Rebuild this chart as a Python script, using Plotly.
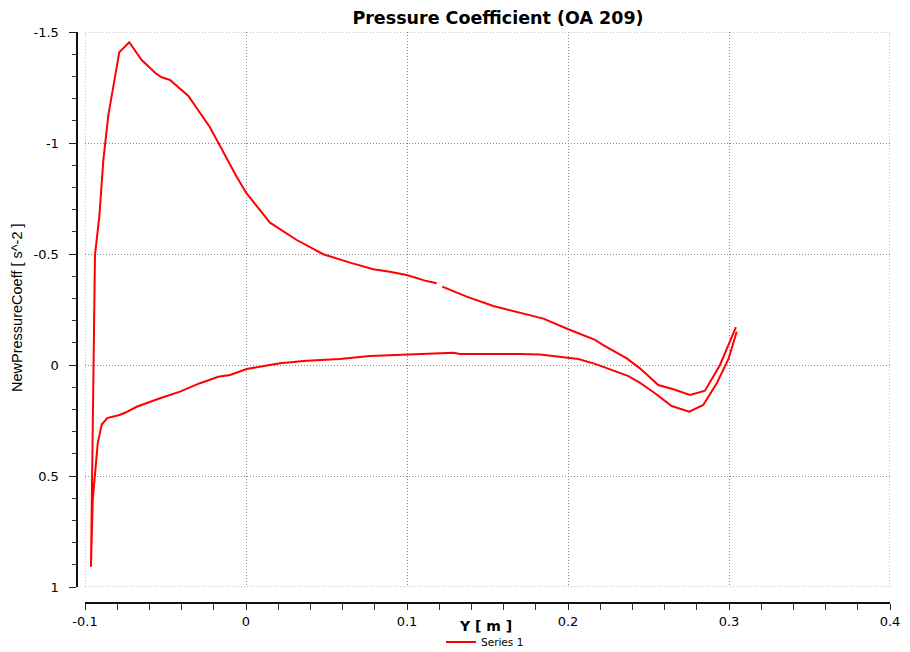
import plotly.graph_objects as go

# ---- data ----
# suction side, from the leading-edge stagnation point to the small gap
upper_le_y = [-0.0963, -0.0938, -0.0911, -0.0886, -0.0855, -0.0787, -0.0725, -0.0648,
              -0.0561, -0.0524, -0.0472, -0.0358, -0.0224, -0.0058, 0.0004, 0.0087,
              0.0149, 0.0315, 0.0480, 0.0646, 0.0791, 0.0894, 0.0998, 0.1112, 0.1184]
upper_le_cp = [0.909, -0.496, -0.668, -0.923, -1.126, -1.409, -1.454, -1.374,
               -1.314, -1.296, -1.284, -1.212, -1.071, -0.848, -0.773, -0.695,
               -0.641, -0.563, -0.499, -0.461, -0.431, -0.420, -0.405, -0.380, -0.368]
# suction side, from the gap to the trailing edge
upper_te_y = [0.1219, 0.1371, 0.1536, 0.1722, 0.1847, 0.2002, 0.2064, 0.2168, 0.2219,
              0.2365, 0.2447, 0.2561, 0.2654, 0.2758, 0.2851, 0.2944, 0.3043]
upper_te_cp = [-0.353, -0.308, -0.266, -0.233, -0.209, -0.161, -0.143, -0.113, -0.090,
               -0.030, 0.015, 0.090, 0.109, 0.135, 0.116, 0.000, -0.171]
# pressure side, from the stagnation point to the trailing edge
lower_y = [-0.0963, -0.0952, -0.0921, -0.0896, -0.0862, -0.0786, -0.0745, -0.0679,
           -0.0625, -0.0534, -0.0410, -0.0286, -0.0172, -0.0099, 0.0004, 0.0087,
           0.0211, 0.0377, 0.0584, 0.0770, 0.0998, 0.1288, 0.1329, 0.1702, 0.1826,
           0.1950, 0.2064, 0.2168, 0.2261, 0.2375, 0.2447, 0.2540, 0.2644, 0.2753,
           0.2840, 0.2924, 0.2996, 0.3048]
lower_cp = [0.909, 0.608, 0.353, 0.268, 0.239, 0.225, 0.213, 0.188,
            0.173, 0.150, 0.120, 0.082, 0.053, 0.045, 0.018, 0.008,
            -0.008, -0.019, -0.027, -0.041, -0.048, -0.055, -0.050, -0.050, -0.047,
            -0.035, -0.027, -0.005, 0.019, 0.050, 0.080, 0.127, 0.185, 0.210,
            0.180, 0.082, -0.026, -0.150]

x_tickvals = [-0.1, 0, 0.1, 0.2, 0.3, 0.4]
x_ticktext = ["-0.1", "0", "0.1", "0.2", "0.3", "0.4"]
y_tickvals = [-1.5, -1, -0.5, 0, 0.5, 1]
y_ticktext = ["-1.5", "-1", "-0.5", "0", "0.5", "1"]

series_name = "Series 1"
title_text = "Pressure Coefficient (OA 209)"
x_title = "Y [ m ]"
y_title = "NewPressureCoeff [ s^-2 ]"

# ---- build one trace (gap kept with None) ----
xs = lower_y[::-1] + upper_le_y[1:] + [None] + upper_te_y
ys = lower_cp[::-1] + upper_le_cp[1:] + [None] + upper_te_cp

# the page has an 8px body margin: the figure's top-left sits at page (8, 8)
OFF = 8
W, H = 910 - OFF, 652 - OFF


def px(v):
    return (v - OFF) / W


def py(v):
    return (H - (v - OFF)) / H


GRID_COLOR = "#8a8a8a"
GRID_DASH = "1px,2px"

fig = go.Figure()
fig.add_trace(go.Scatter(x=xs, y=ys, mode="lines", name=series_name,
                         line=dict(color="#ff0000", width=2), connectgaps=False))

common = dict(showgrid=True, gridcolor=GRID_COLOR, griddash=GRID_DASH, gridwidth=1,
              zeroline=False, showline=True, linecolor="#111111", linewidth=2,
              ticks="outside", tickcolor="#222222", tickwidth=1,
              tickfont=dict(family="DejaVu Sans", size=13, color="#000000"),
              automargin=False)

# dotted frame lines at the range ends (grid at the first/last tick)
shapes = []
for xv in (x_tickvals[0], x_tickvals[-1]):
    shapes.append(dict(type="line", xref="x", yref="y domain", x0=xv, x1=xv, y0=0, y1=1,
                       line=dict(color=GRID_COLOR, width=1, dash=GRID_DASH)))
for yv in (y_tickvals[0], y_tickvals[-1]):
    shapes.append(dict(type="line", xref="x domain", yref="y", x0=0, x1=1, y0=yv, y1=yv,
                       line=dict(color=GRID_COLOR, width=1, dash=GRID_DASH)))

fig.update_layout(
    width=W, height=H,
    margin=dict(l=0, r=0, t=0, b=0, autoexpand=False),
    paper_bgcolor="white", plot_bgcolor="white",
    title=dict(text="<b>" + title_text + "</b>", x=px(498), y=py(18),
               xanchor="center", yanchor="middle",
               font=dict(family="DejaVu Sans", size=17.5, color="#000000")),
    xaxis=dict(domain=[px(85), px(890)], range=[-0.1, 0.4],
               anchor="free", position=py(603),
               tickmode="array", tickvals=x_tickvals, ticktext=x_ticktext, ticklen=6,
               minor=dict(tickmode="linear", tick0=0, dtick=0.02, ticklen=6,
                          ticks="outside", tickcolor="#333333", showgrid=False),
               **common),
    yaxis=dict(domain=[py(587), py(32)], range=[1, -1.5],
               anchor="free", position=px(76.5),
               tickmode="array", tickvals=y_tickvals, ticktext=y_ticktext, ticklen=7,
               ticklabelstandoff=7,
               minor=dict(tickmode="linear", tick0=0, dtick=0.1, ticklen=4,
                          ticks="outside", tickcolor="#333333", showgrid=False),
               **common),
    shapes=shapes,
    showlegend=True,
    legend=dict(orientation="h", x=px(485), y=py(642), xanchor="center",
                yanchor="middle", font=dict(family="DejaVu Sans", size=10.5, color="#000000"),
                bgcolor="rgba(0,0,0,0)"),
    annotations=[
        dict(text="<b>" + x_title + "</b>", x=px(485), y=py(626),
             xref="paper", yref="paper", showarrow=False, xanchor="center", yanchor="middle",
             font=dict(family="DejaVu Sans", size=14, color="#000000")),
        dict(text=y_title, x=px(17), y=py(308), textangle=-90,
             xref="paper", yref="paper", showarrow=False, xanchor="center", yanchor="middle",
             font=dict(family="Liberation Sans", size=14.5, color="#000000")),
    ],
)

fig.write_html("out.html")
